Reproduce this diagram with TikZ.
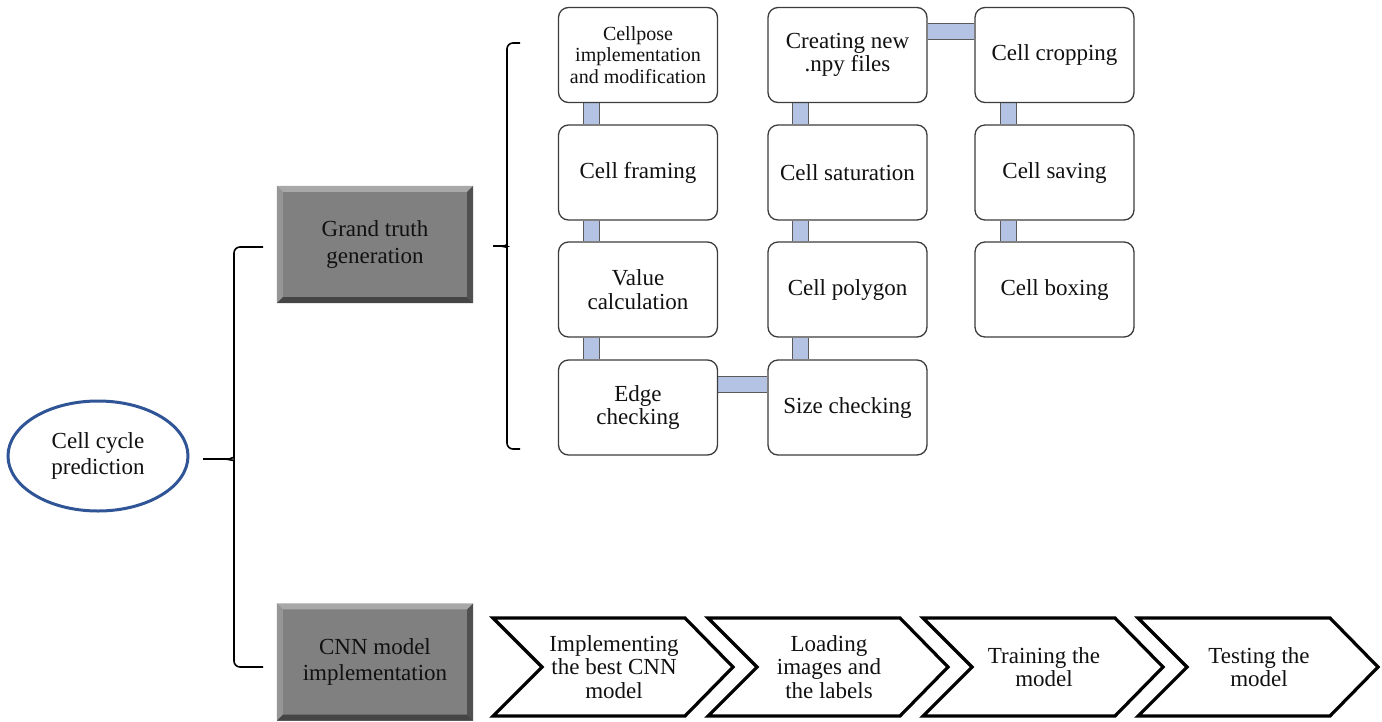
\documentclass[tikz,border=0pt]{standalone}
\usepackage{fontspec}
\setmainfont{Liberation Serif}
\newfontfamily\lserif{Liberation Serif}
\usetikzlibrary{shapes.geometric}
\pgfdeclarelayer{background}
\pgfsetlayers{background,main}
\definecolor{boxline}{HTML}{3C3C3C}
\definecolor{barfill}{HTML}{B4C2E4}
\definecolor{barline}{HTML}{5A5A5A}
\definecolor{greyfill}{HTML}{808080}
\definecolor{bevlight}{HTML}{A8A8A8}
\definecolor{bevmid}{HTML}{969696}
\definecolor{bevdark}{HTML}{505050}
\definecolor{bevdarker}{HTML}{454545}
\definecolor{ellblue}{HTML}{2F5597}
\definecolor{txt}{HTML}{111111}
\tikzset{
  stepbox/.style={draw=boxline, line width=1.3pt, rounded corners=10pt, fill=white,
    minimum width=159pt, minimum height=95pt, align=center, inner sep=0pt,
    text=txt, font=\lserif\fontsize{23}{23.5}\selectfont},
  greybox/.style={fill=greyfill, minimum width=196pt, minimum height=117pt,
    align=center, inner sep=0pt, text=txt, font=\lserif\fontsize{23}{26.5}\selectfont},
  bar/.style={draw=barline, line width=1pt, double=barfill, double distance=15pt},
  bracket/.style={draw=black, line width=1.6pt, rounded corners=6pt},
  chevtext/.style={align=center, inner sep=0pt, text=txt, font=\lserif\fontsize{23}{23.5}\selectfont},
  chevline/.style={draw=black, line width=3.2pt, line join=miter}
}
\newcommand\bevbox[1]{%
  \fill[bevlight] (#1.north west) -- (#1.north east) -- ([xshift=-6pt,yshift=-6pt]#1.north east) -- ([xshift=6pt,yshift=-6pt]#1.north west) -- cycle;
  \fill[bevmid] (#1.north west) -- ([xshift=6pt,yshift=-6pt]#1.north west) -- ([xshift=6pt,yshift=6pt]#1.south west) -- (#1.south west) -- cycle;
  \fill[bevdarker] (#1.south west) -- ([xshift=6pt,yshift=6pt]#1.south west) -- ([xshift=-6pt,yshift=6pt]#1.south east) -- (#1.south east) -- cycle;
  \fill[bevdark] (#1.north east) -- ([xshift=-6pt,yshift=-6pt]#1.north east) -- ([xshift=-6pt,yshift=6pt]#1.south east) -- (#1.south east) -- cycle;
}
\begin{document}
\begin{tikzpicture}[x=1pt,y=-1pt]
\useasboundingbox (0,0) rectangle (1382,721);

% ellipse
\node[ellipse, draw=ellblue, line width=3pt, minimum width=180pt, minimum height=110pt,
  align=center, inner sep=0pt, text=txt, font=\lserif\fontsize{23}{26}\selectfont] (cc) at (98,456) {Cell cycle\\prediction};

% grey boxes
\node[greybox] (gt) at (375,244.5) {Grand truth\\generation};
\bevbox{gt}
\node[greybox] (cnn) at (375,662) {CNN model\\implementation};
\bevbox{cnn}

% big bracket
\coordinate (bt) at (263,247);
\coordinate (bb) at (263,667);
\coordinate (btip) at (203,459);
\draw[bracket] (bt) -- (234,247) -- (234,452) to[out=-90,in=0] (224,459) -- (btip);
\draw[bracket] (bb) -- (234,667) -- (234,466) to[out=90,in=0] (224,459);

% small bracket
\coordinate (st) at (520,43);
\coordinate (sb) at (520,449);
\coordinate (stip) at (493,246);
\draw[bracket] (st) -- (507,43) -- (507,240) to[out=-90,in=0] (500,246) -- (stip);
\draw[bracket] (sb) -- (507,449) -- (507,252) to[out=90,in=0] (500,246);

% step boxes
\node[stepbox, font=\lserif\fontsize{20}{21.5}\selectfont] (cp) at (638,55) {Cellpose\\implementation\\and modification};
\node[stepbox] (cf) at (638,172.5) {Cell framing};
\node[stepbox] (vc) at (638,289.5) {Value\\calculation};
\node[stepbox] (ec) at (638,407.5) {Edge\\checking};
\node[stepbox] (sc) at (847.5,407.5) {Size checking};
\node[stepbox] (pg) at (847.5,289.5) {Cell polygon};
\node[stepbox] (sa) at (847.5,172.5) {Cell saturation};
\node[stepbox] (cn) at (847.5,55) {Creating new\\.npy files};
\node[stepbox] (cr) at (1054.5,55) {Cell cropping};
\node[stepbox] (sv) at (1054.5,172.5) {Cell saving};
\node[stepbox] (bx) at (1054.5,289.5) {Cell boxing};

% connecting bars
\begin{pgfonlayer}{background}
\draw[bar] ([xshift=-46.5pt]cp.south) -- ([xshift=-46.5pt]cf.north);
\draw[bar] ([xshift=-46.5pt]cf.south) -- ([xshift=-46.5pt]vc.north);
\draw[bar] ([xshift=-46.5pt]vc.south) -- ([xshift=-46.5pt]ec.north);
\draw[bar] ([yshift=23pt]ec.east) -- ([yshift=23pt]sc.west);
\draw[bar] ([xshift=-47.5pt]sc.north) -- ([xshift=-47.5pt]pg.south);
\draw[bar] ([xshift=-47.5pt]pg.north) -- ([xshift=-47.5pt]sa.south);
\draw[bar] ([xshift=-47.5pt]sa.north) -- ([xshift=-47.5pt]cn.south);
\draw[bar] ([yshift=23.5pt]cn.east) -- ([yshift=23.5pt]cr.west);
\draw[bar] ([xshift=-46pt]cr.south) -- ([xshift=-46pt]sv.north);
\draw[bar] ([xshift=-46pt]sv.south) -- ([xshift=-46pt]bx.north);
\end{pgfonlayer}

% chevrons
\foreach \L/\n/\t in {493/ch1/{Implementing\\the best CNN\\model}, 708/ch2/{Loading\\images and\\the labels}, 923/ch3/{Training the\\model}, 1138/ch4/{Testing the\\model}}{
  \draw[chevline] (\L,618) -- (\L+192,618) -- (\L+240,667) -- (\L+192,716) -- (\L,716) -- (\L+49,667) -- cycle;
  \node[chevtext] (\n) at (\L+121,667) {\t};
}
\end{tikzpicture}
\end{document}
